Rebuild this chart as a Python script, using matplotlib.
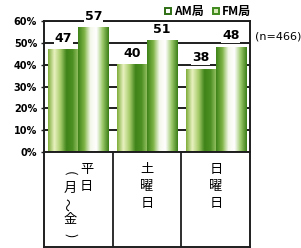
import numpy as np
import matplotlib.pyplot as plt
from matplotlib.colors import LinearSegmentedColormap
from matplotlib.lines import Line2D

plt.rcParams['font.family'] = ['Noto Sans CJK JP', 'DejaVu Sans']

# data
groups = ['平日（月～金）', '土曜日', '日曜日']
am = [47, 40, 38]
fm = [57, 51, 48]
yticks = [0, 10, 20, 30, 40, 50, 60]
n_label = '(n=466)'

# vertical text columns for each category (right column first)
# second item: rotation of the glyph for vertical writing
cat_columns = [
    [[('平', 0), ('日', 0)], [('(', -90), ('月', 0), ('～', 90), ('金', 0), (')', -90)]],
    [[('土', 0), ('曜', 0), ('日', 0)]],
    [[('日', 0), ('曜', 0), ('日', 0)]],
]

am_cmap = LinearSegmentedColormap.from_list(
    'am', ['#7fae3c', '#e9f1c0', '#a9cd6c', '#3f8419', '#4d8f22', '#9cc66a'])
fm_cmap = LinearSegmentedColormap.from_list(
    'fm', ['#3f8419', '#7fb447', '#f4f8ea', '#ffffff', '#9dca6c', '#3c8018'])
grad = np.linspace(0, 1, 64).reshape(1, -1)

fig = plt.figure(figsize=(3.01, 2.48), dpi=100)
ax = fig.add_axes([0.146, 0.387, 0.685, 0.528])

x = np.arange(len(groups))
w = 0.44
for i in x:
    for off, val, cm in [(-w / 2, am[i], am_cmap), (w / 2, fm[i], fm_cmap)]:
        ax.imshow(grad, cmap=cm, extent=[i + off - w / 2, i + off + w / 2, 0, val],
                  aspect='auto', zorder=2, interpolation='bilinear')
        ax.annotate(str(val), (i + off, val), xytext=(0, 3.5), textcoords='offset points',
                    ha='center', va='bottom', fontsize=9, fontweight='bold',
                    family='DejaVu Sans',
                    bbox=dict(facecolor='white', edgecolor='none', pad=0.6), zorder=5)

ax.set_xlim(-0.5, 2.5)
ax.set_ylim(0, 60)
ax.set_yticks(yticks)
ax.set_yticklabels([f'{t}%' for t in yticks], fontsize=7, fontweight='bold',
                   family='DejaVu Sans')
ax.set_xticks([])
ax.tick_params(axis='y', length=2, width=1, color='#222222', pad=3)
for t in yticks[1:]:
    ax.axhline(t, color='#1e1e1e', lw=1.4, zorder=1)
for s in ax.spines.values():
    s.set_color('#1e1e1e')
    s.set_linewidth(1.4)

# legend
handles = [
    Line2D([], [], marker='s', ls='none', markersize=4.5, markerfacecolor='white',
           markeredgecolor='#2f6f14', markeredgewidth=1.4, label='AM局'),
    Line2D([], [], marker='s', ls='none', markersize=4.5, markerfacecolor='#d8eab8',
           markeredgecolor='#3f8a1c', markeredgewidth=1.4, label='FM局'),
]
fig.legend(handles=handles, loc='center', bbox_to_anchor=(0.69, 0.952), ncol=2,
           frameon=False, prop={'size': 8.5, 'weight': 'bold'},
           handlelength=0.6, handletextpad=0.15, columnspacing=0.8, borderaxespad=0)
fig.text(0.923, 0.852, n_label, ha='center', va='center', fontsize=8,
         family='DejaVu Sans')

# category table
tab = fig.add_axes([0.146, 0.006, 0.685, 0.381])
tab.set_xlim(-0.5, 2.5)
tab.set_ylim(0, 1)
tab.set_xticks([])
tab.set_yticks([])
for s in tab.spines.values():
    s.set_color('#1e1e1e')
    s.set_linewidth(1.4)
for b in [0.5, 1.5]:
    tab.axvline(b, color='#1e1e1e', lw=1.3)

for i, cols in enumerate(cat_columns):
    ncol = len(cols)
    for c, chars in enumerate(cols):
        xc = i + (0.12 - 0.24 * c if ncol > 1 else 0.0)
        y0 = 0.81 if c == 0 else 0.78
        st = 0.178 if c == 0 else 0.165
        for k, (ch, rot) in enumerate(chars):
            tab.text(xc, y0 - k * st, ch, ha='center', va='center', fontsize=9.5,
                     rotation=rot, rotation_mode='anchor')

fig.savefig('out.png', dpi=100)
